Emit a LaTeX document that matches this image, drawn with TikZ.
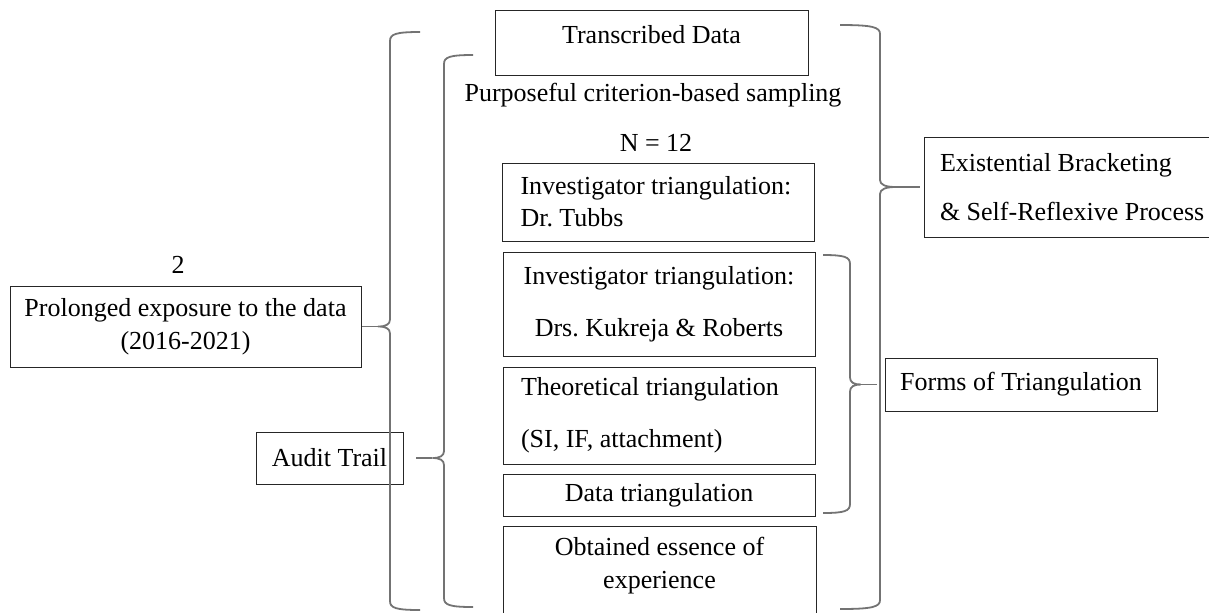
\documentclass[tikz,border=0pt]{standalone}
\usepackage{fontspec}
\setmainfont{Liberation Serif}
\frenchspacing

\newcommand{\curlybrace}[6]{%
    \draw[brace] ({#1+#2},#3) .. controls ({#1+0.2*#2},#3) and (#1,{#3+2}) .. (#1,{#3+9})
        -- (#1,{#4-7}) .. controls (#1,{#4-2}) and ({#1-0.15*#2},#4) .. ({#1-0.4*#2},#4)
        .. controls ({#1-0.15*#2},#4) and (#1,{#4+2}) .. (#1,{#4+7})
        -- (#1,{#5-9}) .. controls (#1,{#5-2}) and ({#1+0.2*#2},#5) .. ({#1+#2},#5);
    \draw[brace] ({#1-0.4*#2},#4) -- (#6);}

\begin{document}
\begin{tikzpicture}[x=0.5pt, y=-0.5pt,
    every node/.style={font=\fontsize{13}{15.7}\selectfont},
    box/.style={draw=black!85, line width=0.5pt, inner sep=0pt},
    brace/.style={draw=black!55, line width=0.9pt}]
    \useasboundingbox (0,0) rectangle (1209,612);
    \clip (0,0) rectangle (1209,612);

    \node (two) at (178,265) {2};
    \node[box, minimum width=175.5pt, minimum height=40.5pt, align=center] (prolonged) at (185.5,326.5) {Prolonged exposure to the data\\[0.8pt](2016-2021)};
    \node[box, minimum width=73.5pt, minimum height=26pt] (audit) at (329.5,458) {Audit Trail};

    \node[box, minimum width=156.5pt, minimum height=32.5pt, text depth=8pt] (transcribed) at (651.5,42.5) {Transcribed Data};
    \node (purposeful) at (653,95) {Purposeful criterion-based sampling};
    \node (sample) at (656,143) {N = 12};
    \node[box, text width=138pt, inner xsep=9pt, minimum height=39pt, align=flush left] (tubbs) at (658.5,202) {Investigator triangulation:\\[0.3pt]Dr. Tubbs};
    \node[box, minimum width=156pt, minimum height=52pt, align=center] (kukreja) at (659,304) {Investigator triangulation:\\[10.3pt]Drs. Kukreja \& Roberts};
    \node[box, text width=138pt, inner xsep=9pt, minimum height=48.5pt, align=flush left] (theoretical) at (659,415.5) {Theoretical triangulation\\[10.3pt](SI, IF, attachment)};
    \node[box, minimum width=156pt, minimum height=21pt] (datatri) at (659,495) {Data triangulation};
    \node[box, minimum width=156.5pt, minimum height=50pt] (essencebox) at (659.5,576) {};
    \node[align=center] (essence) at (659.5,566) {Obtained essence of\\[0.8pt]experience};

    \node[box, text width=150pt, inner xsep=8pt, minimum height=50pt, align=flush left] (existential) at (1090,187) {Existential Bracketing\\[8.8pt]\& Self-Reflexive Process};
    \node[box, minimum width=136pt, minimum height=26.5pt] (forms) at (1021,384.5) {Forms of Triangulation};

    \curlybrace{390}{30}{32}{326.5}{610}{prolonged.east}
    \curlybrace{444}{29}{55}{458}{607}{[xshift=6pt]audit.east}
    \curlybrace{880}{-40}{25}{187}{609}{[xshift=-2pt]existential.west}
    \curlybrace{850}{-27}{255}{384.5}{513}{[xshift=-4pt]forms.west}
\end{tikzpicture}
\end{document}
